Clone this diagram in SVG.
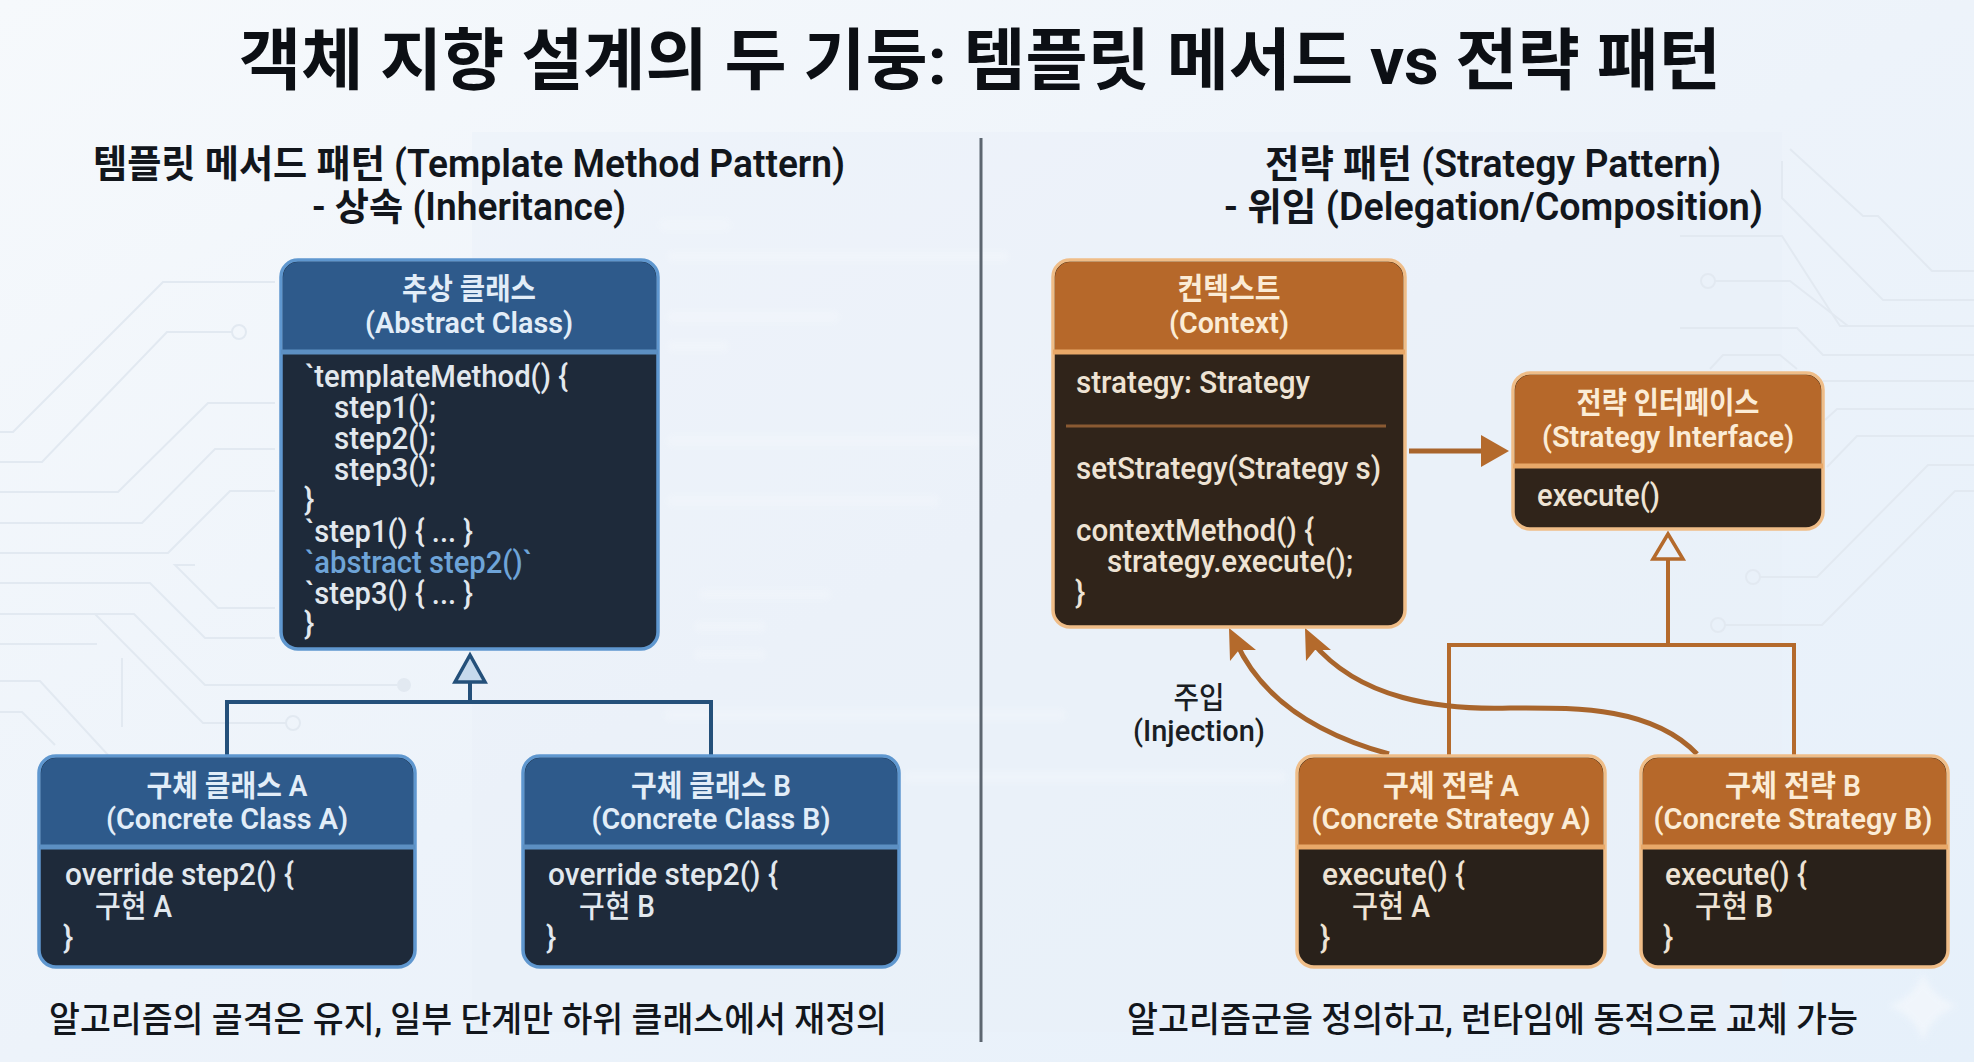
<svg xmlns="http://www.w3.org/2000/svg" width="1974" height="1062" viewBox="0 0 1974 1062">
<style>
text{font-family:Roboto,"Noto Sans CJK KR",sans-serif;}
.title{font-size:67px;font-weight:700;fill:#0c0f14;text-anchor:middle;}
.sub{font-size:38px;font-weight:600;fill:#12161c;}
.cap{font-size:35px;font-weight:500;fill:#12161c;}
.lab{font-size:30px;font-weight:500;fill:#1a1e24;text-anchor:middle;}
.hb{font-size:30px;font-weight:600;fill:#e2edf8;text-anchor:middle;}
.ho{font-size:30px;font-weight:600;fill:#fbecd6;text-anchor:middle;}
.cb{font-size:31px;font-weight:500;fill:#e2e8ee;}
.co{font-size:31px;font-weight:500;fill:#eee3d4;}
.abs{fill:#6ea4d8;}
.blue .frame{fill:#1e2a3a;stroke:#5f97cf;stroke-width:3.500;}
.blue .head{fill:#2e5a8b;}
.blue .div{stroke:#5c8fc2;stroke-width:5;}
.org .frame{fill:#30241a;stroke:#efbd88;stroke-width:3.500;}
.org .head{fill:#b6682a;}
.org .div{stroke:#e8a868;stroke-width:5;}
.org .dark{fill:#29211a;}
.trace{fill:none;stroke:#e2e9f1;stroke-width:2;}
.ghost{fill:#ffffff;opacity:.22;}
.cblue{fill:none;stroke:#24507a;stroke-width:4;}
.corg{fill:none;stroke:#b46a2c;stroke-width:4;}
.corgc{fill:none;stroke:#a9652c;stroke-width:5;}
</style>
<defs>
<linearGradient id="bg" x1="0" y1="0" x2="1" y2="1"><stop offset="0" stop-color="#f6f9fc"/><stop offset=".5" stop-color="#edf3fa"/><stop offset="1" stop-color="#e6f0fa"/></linearGradient>
<filter id="bl"><feGaussianBlur stdDeviation="3"/></filter>
</defs>
<rect width="1974" height="1062" fill="url(#bg)"/>
<rect x="472" y="132" width="1310" height="900" fill="#e8f0f8" opacity=".45"/>
<g id="background-traces" class="trace">
<path d="M0 432H13L163 282H275M0 462H42L167 332H232M0 492H118L208 403H275M0 523H142L215 449H275M0 553H168L230 491H275M0 583H150L205 638H275M0 614H134L205 685H397M95 614L203 723H286M195 565H175L218 608H275M0 644H97M122 658V727M0 681H40L108 755M0 712H22L55 745"/>
<circle cx="239" cy="332" r="7"/><circle cx="293" cy="723" r="7"/>
<circle cx="404" cy="685" r="6" fill="#e2e9f1"/>
<path d="M1790 149L1863 216H1878L1932 271H1974M1782 161V198L1883 300H1974M1680 236H1782L1840 326H1974M1715 281H1790L1848 326M1680 328H1797L1823 355H1974M1710 369L1723 355H1780L1797 369M1823 381H1974M1825 420L1837 409H1974M1827 467L1857 436H1974M1760 577H1817L1928 465H1974M1725 625H1822L1955 491H1974"/>
<circle cx="1708" cy="281" r="7"/><circle cx="1753" cy="577" r="7"/><circle cx="1718" cy="625" r="7"/>
</g>
<g id="background-ghost" class="ghost" filter="url(#bl)">
<rect x="660" y="220" width="70" height="10"/><rect x="668" y="252" width="340" height="9"/><rect x="668" y="312" width="170" height="10"/><rect x="668" y="342" width="60" height="9"/><rect x="668" y="436" width="310" height="10"/><rect x="668" y="496" width="270" height="10"/><rect x="700" y="590" width="130" height="9"/><rect x="695" y="622" width="70" height="9"/><rect x="695" y="650" width="70" height="9"/><rect x="665" y="710" width="400" height="10"/><rect x="905" y="772" width="380" height="10"/>
</g>
<path id="sparkle" d="M1923 972Q1930 996 1957 1006Q1930 1016 1923 1042Q1916 1016 1889 1006Q1916 996 1923 972Z" fill="#f3f7fc" filter="url(#bl)" opacity=".8"/>
<text class="title" x="980" y="84" textLength="1482" lengthAdjust="spacingAndGlyphs">객체 지향 설계의 두 기둥: 템플릿 메서드 vs 전략 패턴</text>
<text class="sub" x="93" y="177" textLength="752" lengthAdjust="spacingAndGlyphs">템플릿 메서드 패턴 (Template Method Pattern)</text>
<text class="sub" x="312" y="220" textLength="314" lengthAdjust="spacingAndGlyphs">- 상속 (Inheritance)</text>
<text class="sub" x="1265" y="177" textLength="456" lengthAdjust="spacingAndGlyphs">전략 패턴 (Strategy Pattern)</text>
<text class="sub" x="1224" y="220" textLength="539" lengthAdjust="spacingAndGlyphs">- 위임 (Delegation/Composition)</text>
<rect id="divider" x="979.500" y="138" width="3" height="904" fill="#5d6670"/>
<g id="connectors">
<path class="cblue" d="M227 755V702H711V755M470 702V682"/>
<path d="M470 655L485 682H455Z" fill="#c6d9ec" stroke="#24507a" stroke-width="3.500"/>
<path class="corg" d="M1449 755V645H1794V755M1668 645V559"/>
<path d="M1668 534L1683 559H1653Z" fill="#eaf1f9" stroke="#b46a2c" stroke-width="3.500"/>
<path class="corgc" d="M1409 451H1485"/>
<path d="M1509 451L1481 435V467Z" fill="#b46a2c"/>
<path class="corgc" d="M1389 754C1320 735 1262 700 1236 642"/>
<path d="M1229 628L1256 650L1239 650L1230 661Z" fill="#b46a2c"/>
<path class="corgc" d="M1697 754C1650 705 1570 708 1510 708C1440 710 1360 700 1312 642"/>
<path d="M1305 628L1331 650L1315 650L1306 661Z" fill="#b46a2c"/>
</g>
<g id="injection-label">
<text class="lab" x="1199" y="708" textLength="51" lengthAdjust="spacingAndGlyphs">주입</text>
<text class="lab" x="1199" y="741" textLength="132" lengthAdjust="spacingAndGlyphs">(Injection)</text>
</g>
<g id="abstract-class" class="blue">
<rect class="frame" x="281" y="260" width="377" height="389" rx="17"/>
<path class="head" d="M283 351V277A15 15 0 0 1 298 262H641A15 15 0 0 1 656 277V351Z"/>
<line class="div" x1="281" x2="658" y1="352" y2="352"/>
<text class="hb" x="469" y="299" textLength="134" lengthAdjust="spacingAndGlyphs">추상 클래스</text>
<text class="hb" x="469" y="333" textLength="208" lengthAdjust="spacingAndGlyphs">(Abstract Class)</text>
<text class="cb" x="305" y="387" textLength="263" lengthAdjust="spacingAndGlyphs">`templateMethod() {</text>
<text class="cb" x="334" y="418" textLength="102" lengthAdjust="spacingAndGlyphs">step1();</text>
<text class="cb" x="334" y="449" textLength="102" lengthAdjust="spacingAndGlyphs">step2();</text>
<text class="cb" x="334" y="480" textLength="102" lengthAdjust="spacingAndGlyphs">step3();</text>
<text class="cb" x="304" y="510">}</text>
<text class="cb" x="305" y="542" textLength="168" lengthAdjust="spacingAndGlyphs">`step1() { ... }</text>
<text class="cb abs" x="305" y="573" textLength="227" lengthAdjust="spacingAndGlyphs">`abstract step2()`</text>
<text class="cb" x="305" y="604" textLength="168" lengthAdjust="spacingAndGlyphs">`step3() { ... }</text>
<text class="cb" x="304" y="634">}</text>
</g>
<g id="concrete-class-a" class="blue">
<rect class="frame" x="39" y="756" width="376" height="211" rx="17"/>
<path class="head" d="M41 846V773A15 15 0 0 1 56 758H398A15 15 0 0 1 413 773V846Z"/>
<line class="div" x1="39" x2="415" y1="847" y2="847"/>
<text class="hb" x="227" y="796" textLength="161" lengthAdjust="spacingAndGlyphs">구체 클래스 A</text>
<text class="hb" x="227" y="829" textLength="242" lengthAdjust="spacingAndGlyphs">(Concrete Class A)</text>
<text class="cb" x="65" y="885" textLength="229" lengthAdjust="spacingAndGlyphs">override step2() {</text>
<text class="cb" x="95" y="917" textLength="77" lengthAdjust="spacingAndGlyphs">구현 A</text>
<text class="cb" x="63" y="948">}</text>
</g>
<g id="concrete-class-b" class="blue">
<rect class="frame" x="523" y="756" width="376" height="211" rx="17"/>
<path class="head" d="M525 846V773A15 15 0 0 1 540 758H882A15 15 0 0 1 897 773V846Z"/>
<line class="div" x1="523" x2="899" y1="847" y2="847"/>
<text class="hb" x="711" y="796" textLength="160" lengthAdjust="spacingAndGlyphs">구체 클래스 B</text>
<text class="hb" x="711" y="829" textLength="239" lengthAdjust="spacingAndGlyphs">(Concrete Class B)</text>
<text class="cb" x="548" y="885" textLength="230" lengthAdjust="spacingAndGlyphs">override step2() {</text>
<text class="cb" x="579" y="917" textLength="76" lengthAdjust="spacingAndGlyphs">구현 B</text>
<text class="cb" x="546" y="948">}</text>
</g>
<g id="context" class="org">
<rect class="frame" x="1053" y="260" width="352" height="367" rx="17"/>
<path class="head" d="M1055 351V277A15 15 0 0 1 1070 262H1388A15 15 0 0 1 1403 277V351Z"/>
<line class="div" x1="1053" x2="1405" y1="352" y2="352"/>
<line x1="1066" x2="1386" y1="426" y2="426" stroke="#8a5a32" stroke-width="3"/>
<text class="ho" x="1229" y="299" textLength="103" lengthAdjust="spacingAndGlyphs">컨텍스트</text>
<text class="ho" x="1229" y="333" textLength="120" lengthAdjust="spacingAndGlyphs">(Context)</text>
<text class="co" x="1076" y="393" textLength="234" lengthAdjust="spacingAndGlyphs">strategy: Strategy</text>
<text class="co" x="1076" y="479" textLength="305" lengthAdjust="spacingAndGlyphs">setStrategy(Strategy s)</text>
<text class="co" x="1076" y="541" textLength="238" lengthAdjust="spacingAndGlyphs">contextMethod() {</text>
<text class="co" x="1107" y="572" textLength="246" lengthAdjust="spacingAndGlyphs">strategy.execute();</text>
<text class="co" x="1075" y="603">}</text>
</g>
<g id="strategy-interface" class="org">
<rect class="frame" x="1513" y="373" width="310" height="156" rx="17"/>
<path class="head" d="M1515 465V390A15 15 0 0 1 1530 375H1806A15 15 0 0 1 1821 390V465Z"/>
<line class="div" x1="1513" x2="1823" y1="466" y2="466"/>
<text class="ho" x="1668" y="413" textLength="183" lengthAdjust="spacingAndGlyphs">전략 인터페이스</text>
<text class="ho" x="1668" y="447" textLength="252" lengthAdjust="spacingAndGlyphs">(Strategy Interface)</text>
<text class="co" x="1537" y="506" textLength="123" lengthAdjust="spacingAndGlyphs">execute()</text>
</g>
<g id="concrete-strategy-a" class="org">
<rect class="frame dark" x="1297" y="756" width="308" height="211" rx="17"/>
<path class="head" d="M1299 846V773A15 15 0 0 1 1314 758H1588A15 15 0 0 1 1603 773V846Z"/>
<line class="div" x1="1297" x2="1605" y1="847" y2="847"/>
<text class="ho" x="1451" y="796" textLength="136" lengthAdjust="spacingAndGlyphs">구체 전략 A</text>
<text class="ho" x="1451" y="829" textLength="279" lengthAdjust="spacingAndGlyphs">(Concrete Strategy A)</text>
<text class="co" x="1322" y="885" textLength="143" lengthAdjust="spacingAndGlyphs">execute() {</text>
<text class="co" x="1352" y="917" textLength="78" lengthAdjust="spacingAndGlyphs">구현 A</text>
<text class="co" x="1320" y="948">}</text>
</g>
<g id="concrete-strategy-b" class="org">
<rect class="frame dark" x="1641" y="756" width="307" height="211" rx="17"/>
<path class="head" d="M1643 846V773A15 15 0 0 1 1658 758H1931A15 15 0 0 1 1946 773V846Z"/>
<line class="div" x1="1641" x2="1948" y1="847" y2="847"/>
<text class="ho" x="1793" y="796" textLength="136" lengthAdjust="spacingAndGlyphs">구체 전략 B</text>
<text class="ho" x="1793" y="829" textLength="279" lengthAdjust="spacingAndGlyphs">(Concrete Strategy B)</text>
<text class="co" x="1665" y="885" textLength="142" lengthAdjust="spacingAndGlyphs">execute() {</text>
<text class="co" x="1695" y="917" textLength="78" lengthAdjust="spacingAndGlyphs">구현 B</text>
<text class="co" x="1663" y="948">}</text>
</g>
<text class="cap" x="49" y="1032" textLength="838" lengthAdjust="spacingAndGlyphs">알고리즘의 골격은 유지, 일부 단계만 하위 클래스에서 재정의</text>
<text class="cap" x="1127" y="1032" textLength="731" lengthAdjust="spacingAndGlyphs">알고리즘군을 정의하고, 런타임에 동적으로 교체 가능</text>
</svg>
